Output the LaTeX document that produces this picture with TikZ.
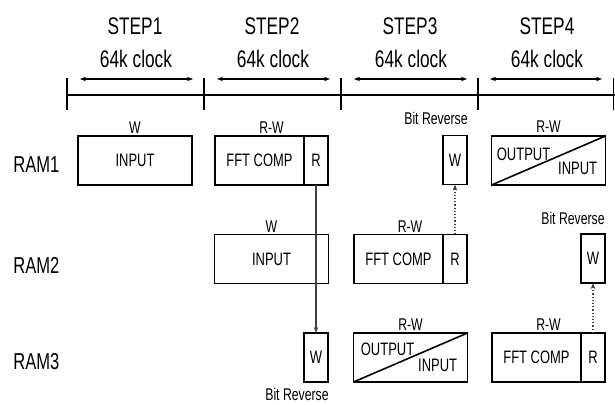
\documentclass[tikz,border=0pt]{standalone}
\usepackage{fontspec}
\setmainfont{Liberation Sans}[FakeStretch=0.72]
\usetikzlibrary{arrows.meta,positioning}

\begin{document}
\begin{tikzpicture}[x=0.5pt, y=-0.5pt,
    steplbl/.style={font=\fontsize{12}{14}\selectfont},
    ramlbl/.style={font=\fontsize{11.5}{13}\selectfont, anchor=west, inner sep=0pt},
    membox/.style={draw, thick, outer sep=0pt, inner sep=0pt, minimum height=24.5pt, font=\fontsize{9}{10}\selectfont},
    wide/.style={membox, minimum width=57pt},
    comp/.style={membox, minimum width=44.5pt},
    rd/.style={membox, minimum width=12pt},
    wr/.style={membox, minimum width=12pt},
    oplbl/.style={font=\fontsize{8.5}{10}\selectfont, inner sep=1pt},
    clkarr/.style={{Stealth[length=3pt]}-{Stealth[length=3pt]}, semithick},
    arr/.style={-{Stealth[length=3pt]}, semithick, black!75},
    darr/.style={arr, densely dotted}
]
\useasboundingbox (0,0) rectangle (615,405);

% time axis
\coordinate (t0) at (67,95);
\coordinate (t1) at (204,95);
\coordinate (t2) at (341,95);
\coordinate (t3) at (478,95);
\coordinate (tE) at (615,95);
\draw[line width=1.1pt] (t0) -- (tE);
\draw[semithick] ([yshift=8.5pt]t0) -- ([yshift=-7.5pt]t0);
\draw[semithick] ([yshift=8.5pt]t1) -- ([yshift=-7.5pt]t1);
\draw[semithick] ([yshift=8.5pt]t2) -- ([yshift=-7.5pt]t2);
\draw[semithick] ([yshift=8.5pt]t3) -- ([yshift=-7.5pt]t3);
\draw[semithick] ([xshift=-0.6pt,yshift=8.5pt]tE) -- ([xshift=-0.6pt,yshift=-7.5pt]tE);

\draw[clkarr] ([xshift=6.5pt,yshift=8pt]t0) -- ([xshift=-5.5pt,yshift=8pt]t1);
\draw[clkarr] ([xshift=6.5pt,yshift=8pt]t1) -- ([xshift=-5.5pt,yshift=8pt]t2);
\draw[clkarr] ([xshift=6.5pt,yshift=8pt]t2) -- ([xshift=-5.5pt,yshift=8pt]t3);
\draw[clkarr] ([xshift=6pt,yshift=8pt]t3) -- ([xshift=-6.5pt,yshift=8pt]tE);

\node[steplbl] (step1) at (135,26) {STEP1};
\node[steplbl] (step2) at (272,26) {STEP2};
\node[steplbl] (step3) at (410,26) {STEP3};
\node[steplbl] (step4) at (547,26) {STEP4};
\node[steplbl] (clk1) at (136,59) {64k clock};
\node[steplbl] (clk2) at (273,59) {64k clock};
\node[steplbl] (clk3) at (411,59) {64k clock};
\node[steplbl] (clk4) at (547,59) {64k clock};

% memories
\node[ramlbl] (ram1) at (13,165) {RAM1};
\node[ramlbl] (ram2) at (13,265) {RAM2};
\node[ramlbl] (ram3) at (13,362) {RAM3};

% RAM1
\node[wide] (in1) at (135,160.5) {INPUT};
\node[comp] (fft1) at (259.5,160.5) {FFT COMP};
\node[rd, right=0pt of fft1] (rd1) {R};
\node[wide] (oi1) at (548.5,160.5) {};
\draw[thick] (oi1.south west) -- (oi1.north east);
\node[font=\fontsize{9}{10}\selectfont, anchor=west, inner sep=0pt] (out1) at ([xshift=2.5pt,yshift=-9pt]oi1.north west) {OUTPUT};
\node[font=\fontsize{9}{10}\selectfont, anchor=east, inner sep=0pt] (inp1) at ([xshift=-4pt,yshift=8.5pt]oi1.south east) {INPUT};

% RAM2
\node[wide] (in2) at (271.5,259) {INPUT};
\node[comp] (fft2) at (398.5,259) {FFT COMP};
\node[rd, right=0pt of fft2] (rd2) {R};
\node[wr, above=25pt of rd2] (wr1) {W};

% RAM3
\node[wr, below=74pt of rd1] (wr3) {W};
\node[wide] (oi3) at (410.5,357.5) {};
\draw[thick] (oi3.south west) -- (oi3.north east);
\node[font=\fontsize{9}{10}\selectfont, anchor=west, inner sep=0pt] (out3) at ([xshift=3.5pt,yshift=-8pt]oi3.north west) {OUTPUT};
\node[font=\fontsize{9}{10}\selectfont, anchor=east, inner sep=0pt] (inp3) at ([xshift=-5pt,yshift=8.5pt]oi3.south east) {INPUT};
\node[comp] (fft3) at (536.5,357.5) {FFT COMP};
\node[rd, right=0pt of fft3] (rd3) {R};
\node[wr, above=25pt of rd3] (wr2) {W};

% access labels
\node[oplbl, anchor=south] (lw1) at (135,136) {W};
\node[oplbl, anchor=south] (lrw1) at (271.5,136) {R-W};
\node[oplbl, anchor=south] (lrw2) at (548.5,135) {R-W};
\node[oplbl, anchor=south east] (bit1) at ([xshift=1.5pt,yshift=4pt]wr1.north east) {Bit Reverse};
\node[oplbl, anchor=south] (lw2) at (271.5,235) {W};
\node[oplbl, anchor=south] (lrw3) at (410,235) {R-W};
\node[oplbl, anchor=south east] (bit2) at ([xshift=1pt,yshift=3.5pt]wr2.north east) {Bit Reverse};
\node[oplbl, anchor=south] (lrw4) at (410.5,333) {R-W};
\node[oplbl, anchor=south] (lrw5) at (548.5,333) {R-W};
\node[oplbl, anchor=north east] (bit3) at ([xshift=1.5pt,yshift=-2pt]wr3.south east) {Bit Reverse};

% data moves
\draw[arr] (rd1) -- (wr3);
\draw[darr] (rd2) -- (wr1);
\draw[darr] (rd3) -- (wr2);
\end{tikzpicture}
\end{document}
